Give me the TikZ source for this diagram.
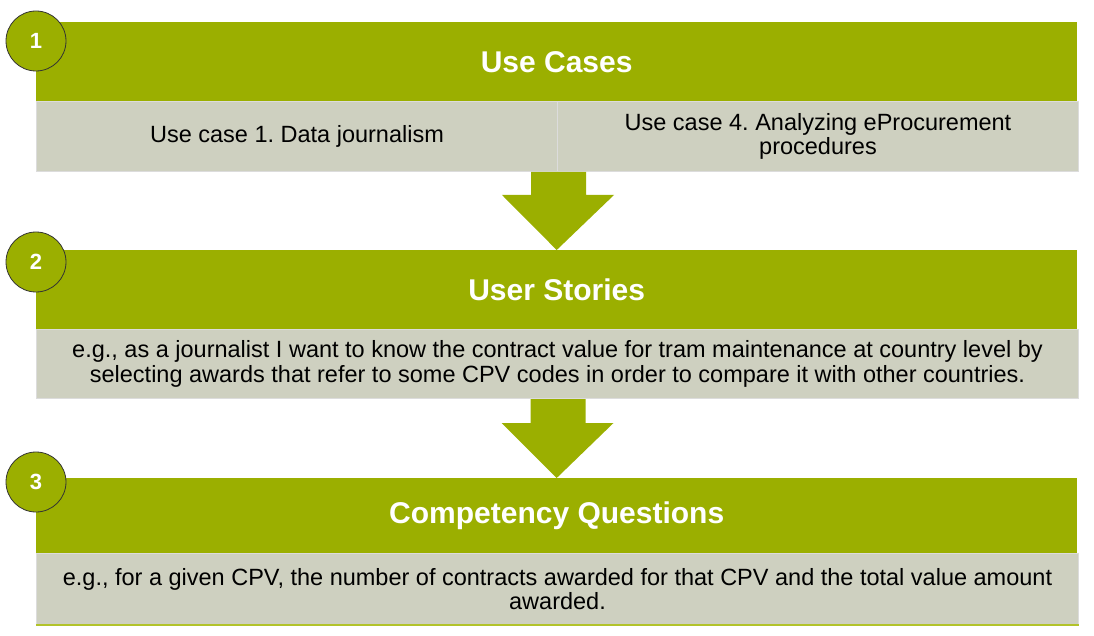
\documentclass[tikz,border=0pt]{standalone}
\usepackage{fontspec}
\setmainfont{Liberation Sans}
\usetikzlibrary{calc}
\frenchspacing
\definecolor{olivegreen}{HTML}{9BAF00}
\definecolor{cellgray}{HTML}{CED0C0}
\definecolor{cellborder}{HTML}{DCDCDC}
\definecolor{bottomline}{HTML}{B2C32A}
\tikzset{
  headbox/.style={fill=olivegreen, draw=none, inner sep=0pt, anchor=north west,
    minimum width=1041pt, minimum height=79pt, text=white,
    font=\bfseries\fontsize{30}{34}\selectfont},
  cellbox/.style={fill=cellgray, draw=cellborder, line width=1pt, inner sep=0pt, anchor=north west,
    align=center, font=\frenchspacing\fontsize{23.5}{24.5}\selectfont},
  numcircle/.style={circle, fill=olivegreen, draw=black!80, line width=0.8pt,
    minimum size=60pt, inner sep=0pt, text=white, font=\bfseries\fontsize{22}{26}\selectfont},
  bigarrow/.style={fill=olivegreen, draw=none}
}
\begin{document}
\begin{tikzpicture}[x=1pt,y=-1pt]
\useasboundingbox (0,0) rectangle (1094,636);
% block 1
\node[headbox] (h1) at (36,22) {Use Cases};
\node[cellbox, minimum width=521pt, minimum height=70pt] (c1a) at (36,101) {Use case 1. Data journalism};
\node[cellbox, minimum width=521pt, minimum height=70pt] (c1b) at (557,101) {Use case 4. Analyzing eProcurement\\procedures};
\node[numcircle] (n1) at (36,41) {1};
% arrow 1
\node[headbox] (h2) at (36,250) {User Stories};
\fill[bigarrow] ($(c1a.south east)+(-27,0)$) -- ($(c1a.south east)+(28,0)$) -- ++(0,23) -- ++(28,0)
  -- (h2.north) -- ($(c1a.south east)+(-56,23)$) -- ++(29,0) -- cycle;
% block 2
\node[cellbox, minimum width=1042pt, minimum height=69pt] (c2) at (36,329) {e.g., as a journalist I want to know the contract value for tram maintenance at country level by\\selecting awards that refer to some CPV codes in order to compare it with other countries.};
\node[numcircle] (n2) at (36,262) {2};
% arrow 2
\node[headbox, minimum height=76pt] (h3) at (36,478) {Competency Questions};
\fill[bigarrow] ($(c2.south)+(-27,0)$) -- ($(c2.south)+(28,0)$) -- ++(0,24) -- ++(28,0)
  -- (h3.north) -- ($(c2.south)+(-56,24)$) -- ++(29,0) -- cycle;
% block 3
\node[cellbox, minimum width=1042pt, minimum height=71pt] (c3) at (36,553) {e.g., for a given CPV, the number of contracts awarded for that CPV and the total value amount\\awarded.};
\draw[bottomline, line width=2pt] (c3.south west) -- (c3.south east);
\node[numcircle] (n3) at (36,482) {3};
\end{tikzpicture}
\end{document}
